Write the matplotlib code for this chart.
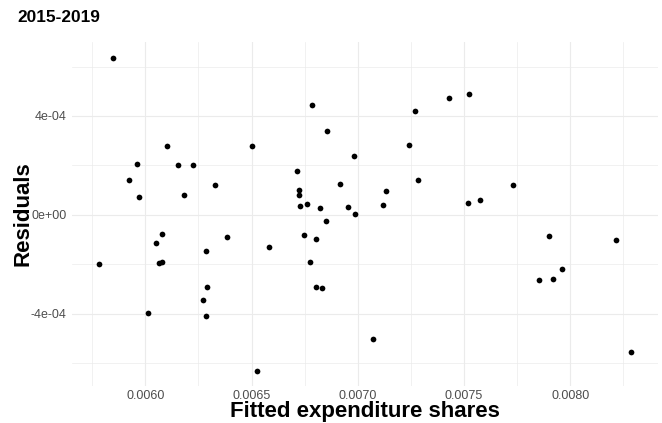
import matplotlib.pyplot as plt
from matplotlib.ticker import MultipleLocator, FuncFormatter

plt.rcParams['font.family'] = ['Liberation Sans', 'DejaVu Sans']

# fitted shares vs residuals, 2015-2019
fitted = [0.005847, 0.006104, 0.006500, 0.005962, 0.006152, 0.006223, 0.005922,
          0.006329, 0.006182, 0.005972, 0.006080, 0.006049, 0.006384, 0.006581,
          0.006284, 0.005781, 0.006066, 0.006080, 0.006289, 0.006270, 0.006011,
          0.006284, 0.006524, 0.006786, 0.006854, 0.006982, 0.006715, 0.006916,
          0.006723, 0.006723, 0.006727, 0.006760, 0.006821, 0.006952, 0.006985,
          0.006852, 0.007271, 0.007240, 0.007429, 0.007283, 0.007134, 0.007117,
          0.006745, 0.006803, 0.006774, 0.006803, 0.006832, 0.007073, 0.007525,
          0.007729, 0.007520, 0.007576, 0.007901, 0.008216, 0.007962, 0.007853,
          0.007920, 0.008285]
resid = [6.34e-4, 2.80e-4, 2.80e-4, 2.07e-4, 2.01e-4, 2.01e-4, 1.41e-4,
         1.20e-4, 0.81e-4, 0.73e-4, -0.77e-4, -1.12e-4, -0.88e-4, -1.31e-4,
         -1.45e-4, -1.97e-4, -1.93e-4, -1.89e-4, -2.92e-4, -3.43e-4, -3.97e-4,
         -4.08e-4, -6.29e-4, 4.43e-4, 3.39e-4, 2.40e-4, 1.77e-4, 1.25e-4,
         1.00e-4, 0.81e-4, 0.36e-4, 0.44e-4, 0.29e-4, 0.32e-4, 0.05e-4,
         -0.24e-4, 4.21e-4, 2.83e-4, 4.74e-4, 1.41e-4, 0.96e-4, 0.42e-4,
         -0.82e-4, -0.98e-4, -1.90e-4, -2.91e-4, -2.96e-4, -5.02e-4, 4.88e-4,
         1.20e-4, 0.50e-4, 0.62e-4, -0.84e-4, -1.01e-4, -2.19e-4, -2.63e-4,
         -2.57e-4, -5.55e-4]

x_ticks = [0.0060, 0.0065, 0.0070, 0.0075, 0.0080]
y_ticks = [-4e-4, 0.0, 4e-4]
y_labels = ['-4e-04', '0e+00', '4e-04']

fig = plt.figure(figsize=(6.62, 4.23), dpi=100)
ax = fig.add_axes([72 / 662, 1 - 386 / 423, 586 / 662, 344 / 423])

ax.scatter(fitted, resid, s=17, color='black', linewidths=0, zorder=3)

ax.set_xlim(0.005655, 0.008413)
ax.set_ylim(-6.91e-4, 6.99e-4)

ax.set_xticks(x_ticks)
ax.xaxis.set_major_formatter(FuncFormatter(lambda v, p: f'{v:.4f}'))
ax.set_yticks(y_ticks)
ax.set_yticklabels(y_labels)
ax.xaxis.set_minor_locator(MultipleLocator(0.00025))
ax.yaxis.set_minor_locator(MultipleLocator(2e-4))

ax.grid(which='major', color='#EBEBEB', linewidth=0.8)
ax.grid(which='minor', color='#EBEBEB', linewidth=0.5)
ax.set_axisbelow(True)
for sp in ax.spines.values():
    sp.set_visible(False)
ax.tick_params(which='both', length=0, labelsize=9, labelcolor='#4D4D4D')
ax.tick_params(axis='x', pad=3)
ax.tick_params(axis='y', pad=4)

ax.set_xlabel('Fitted expenditure shares', fontsize=16, fontweight='bold', labelpad=-0.5)
ax.set_ylabel('Residuals', fontsize=16, fontweight='bold', labelpad=-2)

fig.text(17 / 662, 1 - 18 / 423, '2015-2019', fontsize=12.4, fontweight='bold',
         ha='left', va='center')

fig.savefig('out.png', dpi=100)
